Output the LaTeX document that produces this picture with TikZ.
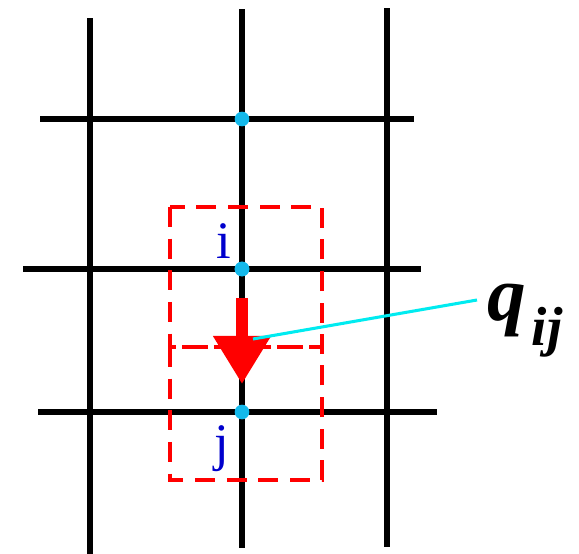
\documentclass[tikz,border=0pt]{standalone}
\usepackage{fontspec}
\setmainfont{Liberation Serif}
\usetikzlibrary{arrows.meta,positioning,calc}
\definecolor{ptblue}{RGB}{20,185,235}
\definecolor{idxblue}{RGB}{0,0,205}
\definecolor{leadcyan}{RGB}{0,235,240}
\begin{document}
\begin{tikzpicture}[x=0.03cm,y=-0.03cm,
  gridline/.style={line width=4.3pt,black},
  cellbox/.style={draw=red,line width=4.2pt,dash pattern=on 17pt off 10pt},
  gridpt/.style={circle,fill=ptblue,inner sep=0pt,minimum size=12.5pt},
  idx/.style={text=idxblue,font=\fontsize{45}{45}\selectfont,inner sep=0pt},
  flow/.style={-{Triangle[length=41pt,width=47pt]},red,line width=9.4pt,
               shorten <=24.8pt,shorten >=23.9pt},
  leadline/.style={leadcyan,line width=2.6pt},
  qlab/.style={font=\fontsize{66}{66}\selectfont\bfseries\itshape,inner sep=0pt},
]
  \useasboundingbox (0,0) rectangle (579,554);

  % grid
  \draw[gridline] (90,18)  -- (90,554);
  \draw[gridline] (242,9)  -- (242,548);
  \draw[gridline] (387,8)  -- (387,547);
  \draw[gridline] (40,119) -- (414,119);
  \draw[gridline] (23,269) -- (421,269);
  \draw[gridline] (38,412) -- (437,412);

  % control volumes
  \draw[cellbox] (170,207) rectangle (322,347);
  \draw[cellbox] (170,347) rectangle (322,480);

  % grid points
  \node[gridpt] (top) at (242,119) {};
  \node[gridpt] (i)   at (242,269) {};
  \node[gridpt] (j)   at (242,412) {};

  % flux
  \draw[flow] (i.center) -- (j.center);
  \coordinate (tip) at (253,339);

  \node[idx,anchor=base] (lbl-i) at (224,258) {i};
  \node[idx,anchor=base] (lbl-j) at (222,460) {j};

  \node[qlab,anchor=base west] (qij) at (487,320)
    {q\kern5pt\raisebox{-22pt}{\fontsize{47}{47}\selectfont ij}};
  \draw[leadline] ($(qij.base west)+(-10,-20)$) -- (tip);

  % redraw points over the flux arrow
  \node[gridpt] at (i) {};
\end{tikzpicture}
\end{document}
